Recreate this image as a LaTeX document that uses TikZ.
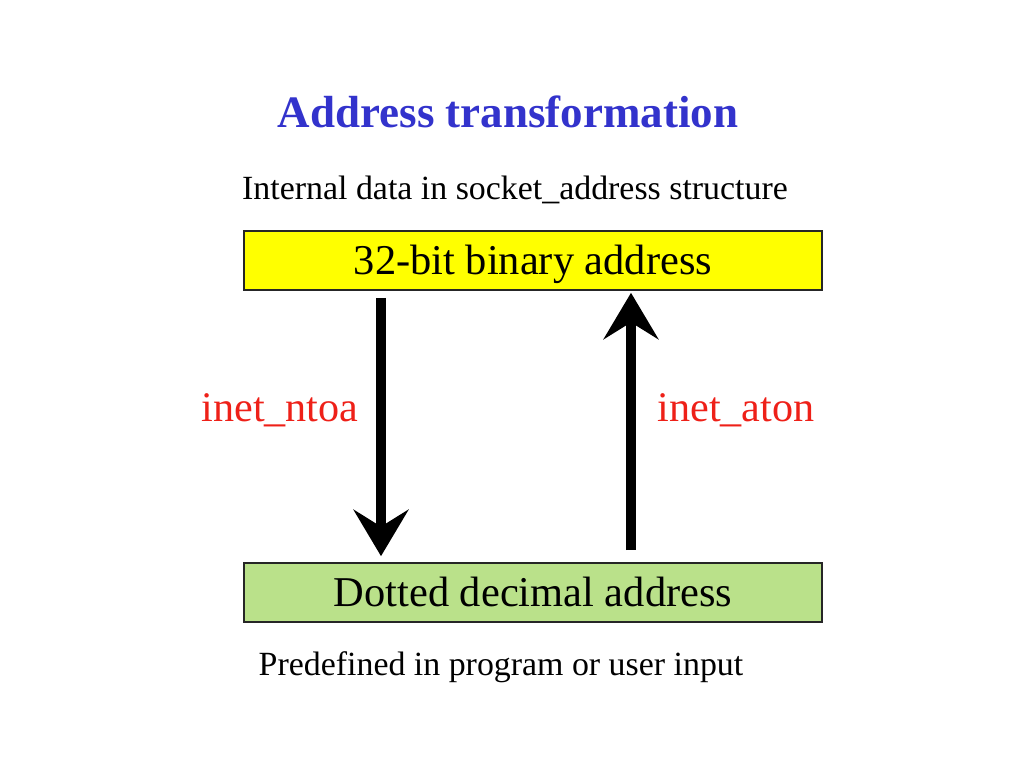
\documentclass[tikz,border=0pt]{standalone}
\usepackage{fontspec}
\setmainfont{Liberation Serif}
\usetikzlibrary{arrows.meta}
\definecolor{titleblue}{RGB}{51,51,204}
\definecolor{fnred}{RGB}{238,32,24}
\definecolor{decgreen}{RGB}{186,225,138}
\definecolor{binyellow}{RGB}{255,255,0}
\tikzset{
	addrbox/.style={draw=black!85, line width=1.2pt, minimum width=14.45cm, minimum height=1.475cm, inner sep=0pt, text height=0.975cm, text depth=0.25cm, font=\fontsize{30.2}{34}\selectfont},
	bigarrow/.style={line width=7pt, -{Stealth[length=33pt, width=39pt, inset=12pt]}},
	fnlabel/.style={text=fnred, font=\fontsize{30}{34}\selectfont}
}
\begin{document}
\begin{tikzpicture}
	\useasboundingbox (0, 0) rectangle (25.6, 19.2);
	\node[text=titleblue, font=\bfseries\fontsize{32}{38}\selectfont] (title) at (12.7, 16.4) {Address transformation};
	\node[font=\fontsize{24.1}{29}\selectfont] (internal) at (12.875, 14.45) {Internal data in socket\_address structure};
	
	\node[addrbox, fill=binyellow] (bin) at (13.325, 12.6875) {32-bit binary address};
	\node[addrbox, fill=decgreen] (dec) at (13.325, 4.3875) {Dotted decimal address};
	
	\draw[bigarrow] ([shift={(-3.8, -0.175)}]bin.south) -- ([shift={(-3.8, 0.15)}]dec.north);
	\draw[bigarrow] ([shift={(2.45, 0.3)}]dec.north) -- ([shift={(2.45, -0.05)}]bin.south);
	\node[fnlabel] (ntoa) at (7.0, 8.95) {inet\_ntoa};
	\node[fnlabel] (aton) at (18.4, 8.95) {inet\_aton};
	
	\node[font=\fontsize{24.1}{29}\selectfont] (source) at (12.525, 2.525) {Predefined in program or user input};
\end{tikzpicture}
\end{document}
